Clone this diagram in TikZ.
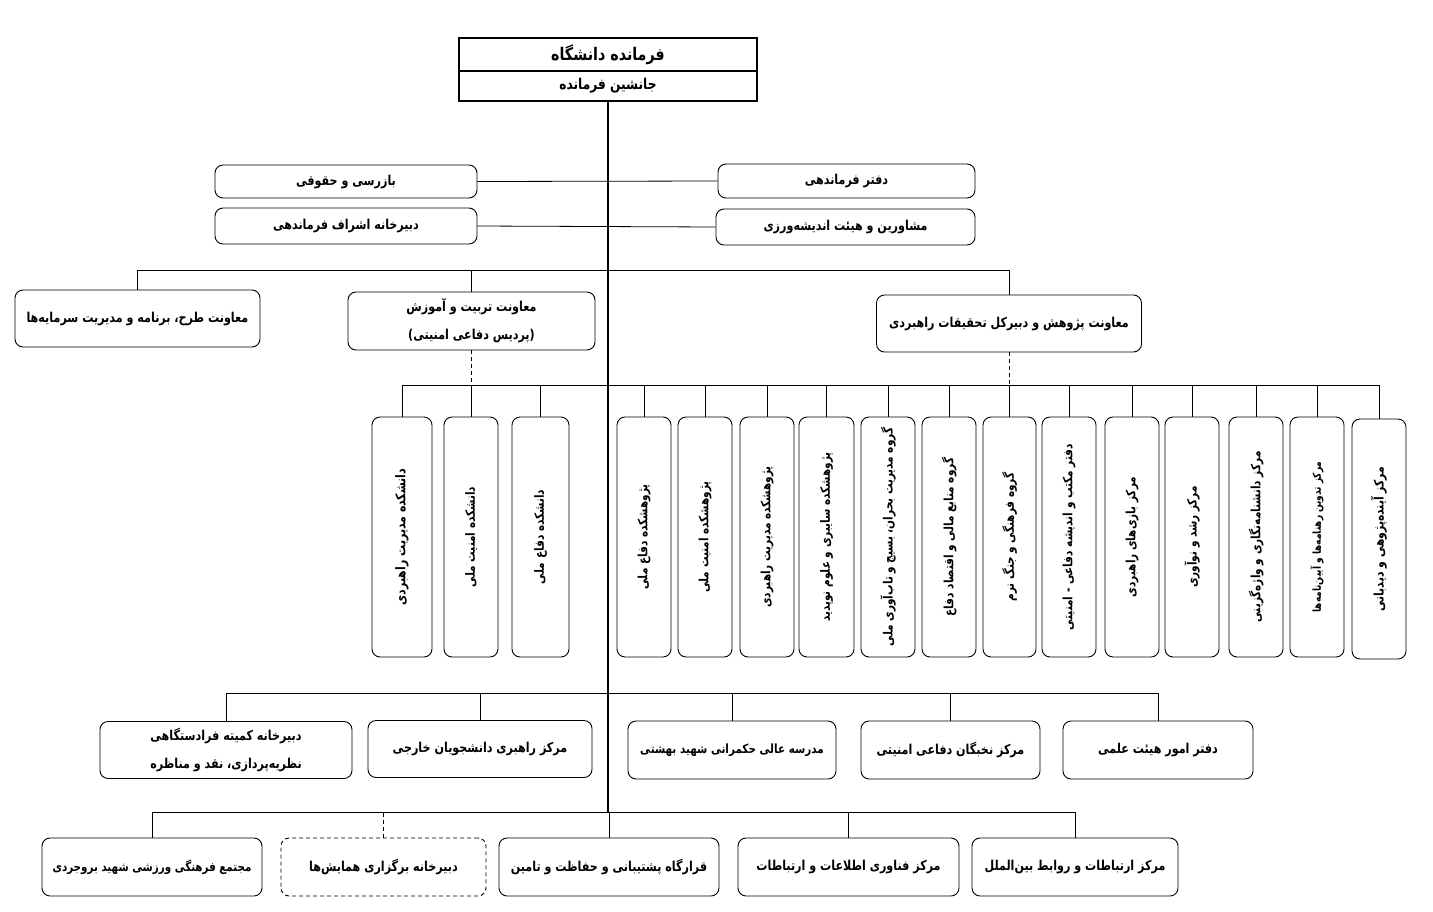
\documentclass[tikz,border=0pt]{standalone}
\usepackage{fontspec}
\usepackage{graphicx}
\TeXXeTstate=1
\newfontfamily\fa[Script=Arabic,FakeStretch=0.82]{DejaVu Sans}
\newcommand\Rtl[1]{\beginR #1\endR}
\newcommand\Vt[1]{\rotatebox{90}{\beginR #1\endR}}
\begin{document}
\begin{tikzpicture}[x=1pt,y=-1pt,
  fs/.style={font=\fa\bfseries\fontsize{#1}{28}\selectfont},
  box/.style={draw, line width=0.9pt, rounded corners=8pt, fill=white, inner sep=0pt, align=center, fs=13.6},
  tbox/.style={draw, line width=1.1pt, fill=white, inner sep=0pt, align=center, minimum width=298pt},
  vbox/.style={box, minimum height=240pt, fs=12.8},
  conn/.style={line width=0.8pt},
  trunk/.style={line width=2.6pt},
  dconn/.style={line width=0.8pt, dash pattern=on 4pt off 3pt}
]
\useasboundingbox (0,0) rectangle (1433,911);
% bus coordinates
\coordinate (h3) at (0,270);
\coordinate (h4) at (0,385);
\coordinate (h5) at (0,693);
\coordinate (h6) at (0,812);
% top
\node[tbox, minimum height=33pt, fs=17.4] (cmd) at (608,54.5) {\Rtl{فرمانده دانشگاه}};
\node[tbox, minimum height=30pt, fs=14.9] (deputy) at (608,86) {\Rtl{جانشین فرمانده}};
% row 2
\node[box, minimum width=262pt, minimum height=33pt] (bazrasi) at (346,181.5) {\Rtl{بازرسی و حقوقی}};
\node[box, minimum width=257pt, minimum height=34pt] (daftar) at (846.5,181) {\Rtl{دفتر فرماندهی}};
\node[box, minimum width=262pt, minimum height=36pt] (dabir) at (346,226) {\Rtl{دبیرخانه اشراف فرماندهی}};
\node[box, minimum width=259pt, minimum height=36pt] (moshaver) at (845.5,227) {\Rtl{مشاورین و هیئت اندیشه‌ورزی}};
% row 3
\node[box, minimum width=245pt, minimum height=57pt] (tarh) at (137.5,318.5) {\Rtl{معاونت طرح، برنامه و مدیریت سرمایه‌ها}};
\node[box, minimum width=247pt, minimum height=58pt] (tarbiat) at (471.5,321) {\Rtl{معاونت تربیت و آموزش}\\\Rtl{(پردیس دفاعی امنیتی)}};
\node[box, minimum width=265pt, minimum height=57pt] (pazhuhesh) at (1009,323.5) {\Rtl{معاونت پژوهش و دبیرکل تحقیقات راهبردی}};
% row 4
\node[vbox, fs=13.4, minimum width=60pt] (d1) at (402,537) {\Vt{دانشکده مدیریت راهبردی}};
\node[vbox, minimum width=54pt] (d2) at (471,537) {\Vt{دانشکده امنیت ملی}};
\node[vbox, minimum width=57pt] (d3) at (540.5,537) {\Vt{دانشکده دفاع ملی}};
\node[vbox, minimum width=54pt] (p1) at (644,537) {\Vt{پژوهشکده دفاع ملی}};
\node[vbox, minimum width=54pt] (p2) at (705,537) {\Vt{پژوهشکده امنیت ملی}};
\node[vbox, minimum width=54pt] (p3) at (767,537) {\Vt{پژوهشکده مدیریت راهبردی}};
\node[vbox, minimum width=55pt] (p4) at (826.5,537) {\Vt{پژوهشکده سایبری و علوم نوپدید}};
\node[vbox, minimum width=54pt] (p5) at (888,537) {\Vt{گروه مدیریت بحران، بسیج و تاب‌آوری ملی}};
\node[vbox, minimum width=54pt] (p6) at (949,537) {\Vt{گروه منابع مالی و اقتصاد دفاع}};
\node[vbox, minimum width=53pt] (p7) at (1009.5,537) {\Vt{گروه فرهنگی و جنگ نرم}};
\node[vbox, minimum width=54pt] (p8) at (1069,537) {\Vt{دفتر مکتب و اندیشه دفاعی - امنیتی}};
\node[vbox, minimum width=54pt] (p9) at (1132,537) {\Vt{مرکز بازی‌های راهبردی}};
\node[vbox, minimum width=54pt] (p10) at (1192,537) {\Vt{مرکز رشد و نوآوری}};
\node[vbox, minimum width=54pt] (p11) at (1256,537) {\Vt{مرکز دانشنامه‌نگاری و واژه‌گزینی}};
\node[vbox, fs=11, minimum width=54pt] (p12) at (1317,537) {\Vt{مرکز تدوین رهنامه‌ها و آیین‌نامه‌ها}};
\node[vbox, fs=13.2, minimum width=54pt] (p13) at (1379,539) {\Vt{مرکز آینده‌پژوهی و دیدبانی}};
% row 5
\node[box, minimum width=252pt, minimum height=57pt] (r5a) at (226,750) {\Rtl{دبیرخانه کمیته فرادستگاهی}\\\Rtl{نظریه‌پردازی، نقد و مناظره}};
\node[box, minimum width=224pt, minimum height=57pt] (r5b) at (480,749) {\Rtl{مرکز راهبری دانشجویان خارجی}};
\node[box, fs=12.7, minimum width=208pt, minimum height=58pt] (r5c) at (732,750) {\Rtl{مدرسه عالی حکمرانی شهید بهشتی}};
\node[box, minimum width=179pt, minimum height=58pt] (r5d) at (950.5,750) {\Rtl{مرکز نخبگان دفاعی امنیتی}};
\node[box, minimum width=190pt, minimum height=58pt] (r5e) at (1158,750) {\Rtl{دفتر امور هیئت علمی}};
% row 6
\node[box, fs=12.6, minimum width=220pt, minimum height=58pt] (r6a) at (152,867) {\Rtl{مجتمع فرهنگی ورزشی شهید بروجردی}};
\node[box, minimum width=205pt, minimum height=58pt, dash pattern=on 4pt off 3pt] (r6b) at (383.5,867) {\Rtl{دبیرخانه برگزاری همایش‌ها}};
\node[box, minimum width=220pt, minimum height=58pt] (r6c) at (609,867) {\Rtl{قرارگاه پشتیبانی و حفاظت و تامین}};
\node[box, minimum width=221pt, minimum height=58pt] (r6d) at (848.5,867) {\Rtl{مرکز فناوری اطلاعات و ارتباطات}};
\node[box, minimum width=206pt, minimum height=58pt] (r6e) at (1075,867) {\Rtl{مرکز ارتباطات و روابط بین‌الملل}};
% connectors
\draw[conn] (bazrasi.east) -- (daftar.west);
\draw[conn] (dabir.east) -- (moshaver.west);
\draw[conn] (tarh.north) |- (pazhuhesh.north |- h3) -- (pazhuhesh.north);
\draw[conn] (tarbiat.north) -- (tarbiat.north |- h3);
\draw[dconn] (tarbiat.south) -- (tarbiat.south |- h4);
\draw[dconn] (pazhuhesh.south) -- (pazhuhesh.south |- h4);
\draw[conn] (d1.north) |- (p13.north |- h4) -- (p13.north);
\foreach \n in {d2,d3,p1,p2,p3,p4,p5,p6,p7,p8,p9,p10,p11,p12}
  \draw[conn] (\n.north) -- (\n.north |- h4);
\draw[conn] (r5a.north) |- (r5e.north |- h5) -- (r5e.north);
\foreach \n in {r5b,r5c,r5d}
  \draw[conn] (\n.north) -- (\n.north |- h5);
\draw[conn] (r6a.north) |- (r6e.north |- h6) -- (r6e.north);
\foreach \n in {r6c,r6d}
  \draw[conn] (\n.north) -- (\n.north |- h6);
\draw[dconn] (r6b.north) -- (r6b.north |- h6);
\draw[trunk] (deputy.south) -- (deputy.south |- h6);
\end{tikzpicture}
\end{document}
